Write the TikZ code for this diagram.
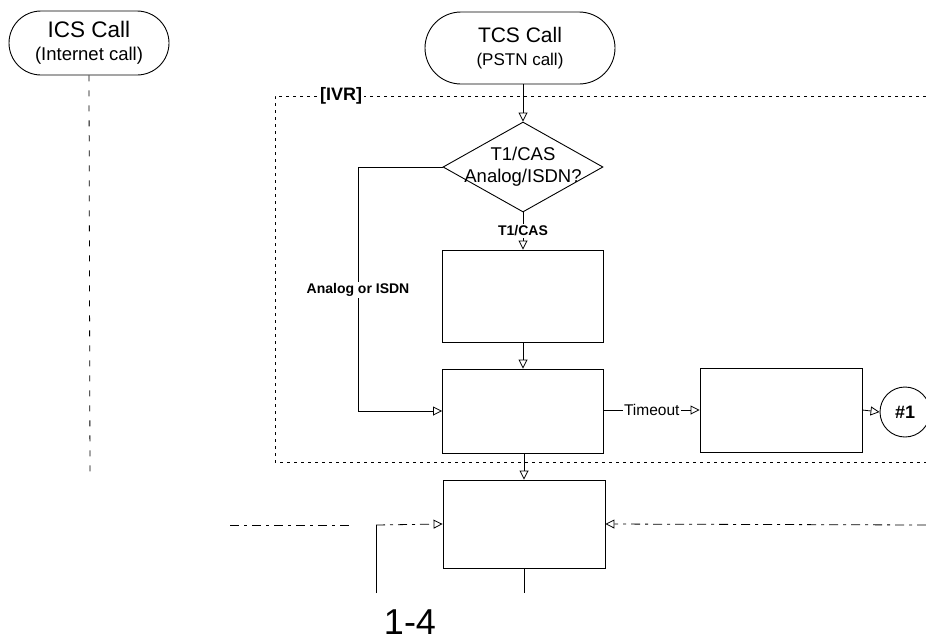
\documentclass[tikz,border=0pt]{standalone}
\usepackage{fontspec}
\setmainfont{Liberation Sans}
\usetikzlibrary{shapes.geometric,shapes.misc,arrows.meta}
\begin{document}
\begin{tikzpicture}[x=1pt,y=-1pt,
  box/.style={draw, line width=0.9pt, minimum width=161pt, inner sep=0pt},
  call/.style={draw, rounded rectangle, line width=0.9pt, align=center, inner sep=0pt},
  arr/.style={-{Triangle[open,length=9pt,width=9pt]}, line width=0.8pt},
  lbl/.style={font=\bfseries\fontsize{14}{16}\selectfont, fill=white, inner sep=1.5pt},
  dashdot/.style={line width=0.8pt, dash pattern=on 9pt off 5pt on 3pt off 5pt},
  ivr/.style={line width=1pt, dash pattern=on 3pt off 4pt}
]
\useasboundingbox (0,0) rectangle (926,643);

% call terminals
\node[call, minimum width=160pt, minimum height=64pt, font=\fontsize{18}{22}\selectfont] (ics) at (89,43)
  {{\fontsize{22.5}{24}\selectfont ICS Call}\\[1pt]{\fontsize{18.5}{22}\selectfont (Internet call)}};
\node[call, minimum width=190pt, minimum height=72pt, font=\fontsize{17}{22}\selectfont] (tcs) at (520,48)
  {{\fontsize{21}{24}\selectfont TCS Call}\\[1pt]{\fontsize{17}{22}\selectfont (PSTN call)}};

% IVR region
\draw[ivr] (926,96) -- (275,96) -- (275,462) -- (926,462);
\node[fill=white, inner sep=2pt, font=\bfseries\fontsize{18}{20}\selectfont] (ivrlbl) at (341,96) {[IVR]};

% decision
\node[diamond, draw, line width=0.9pt, minimum width=160pt, minimum height=90pt, inner sep=0pt] (dec) at (523,167) {};
\node[align=center, font=\fontsize{18.5}{22}\selectfont, inner sep=0pt] (dectext) at (523,167) {T1/CAS\\Analog/ISDN?};

% process boxes
\node[box, minimum height=92pt] (b1) at (523,296) {};
\node[box, minimum height=84pt] (b2) at (523,411) {};
\node[box, minimum width=162pt, minimum height=84pt] (b3) at (781,410) {};
\node[box, minimum width=162pt, minimum height=88pt] (b4) at (524,524) {};
\node[draw, circle, line width=0.9pt, minimum size=50pt, inner sep=0pt,
      font=\bfseries\fontsize{18}{20}\selectfont] (n1) at (905,412) {\#1};

% connectors
\draw[arr] (dec.north |- tcs.south) -- (dec.north);
\draw[arr] (dec.south) -- node[lbl] (t1lbl) {T1/CAS} (b1.north);
\draw[arr] (b1.south) -- (b2.north);
\coordinate (bend) at (358,167);
\draw[arr] (dec.west) -- (bend) |- (b2.west);
\node[lbl] (alab) at (358,290) {Analog or ISDN};
\draw[arr] (b2.east |- b3.west) -- node[fill=white, inner sep=1.5pt, font=\fontsize{15.5}{17}\selectfont] (tolbl) {Timeout} (b3.west);
\draw[arr] (b3.east) -- (n1.west);
\draw[arr] (b2.south -| b4.north) -- (b4.north);

% lower lines
\coordinate (icsbot) at (90,480);
\draw[line width=0.8pt, dash pattern=on 6pt off 9pt] (ics.south) -- (icsbot);
\coordinate (lend) at (230,525);
\coordinate (lgap) at (352,525);
\draw[dashdot] (lend) -- (lgap);
\coordinate (lcorner) at (376,525);
\coordinate (lbot) at (376,593);
\draw[line width=0.9pt] (lbot) -- (lcorner);
\draw[arr, dashdot] (lcorner) -- (b4.west);
\coordinate (rend) at (926,525);
\draw[arr, dashdot] (rend) -- (b4.east);
\coordinate (b4bot) at (524,593);
\draw[line width=0.9pt] (b4.south) -- (b4bot);

% handwritten page mark
\node[font=\fontsize{36}{38}\selectfont] (pg) at (410,622) {1-4};
\end{tikzpicture}
\end{document}
